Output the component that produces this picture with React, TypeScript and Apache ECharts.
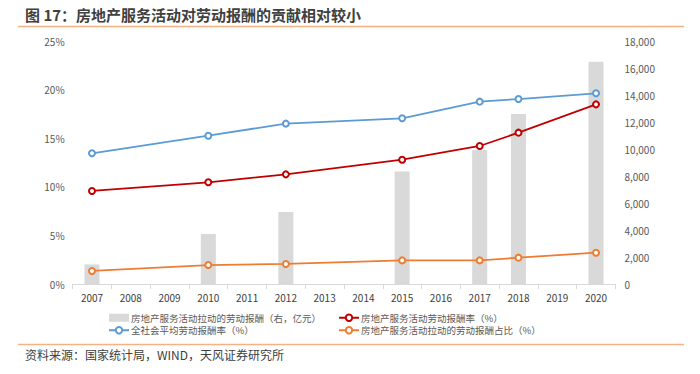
import React, { useEffect, useRef } from "react";
import * as echarts from "echarts";

const years = ["2007","2008","2009","2010","2011","2012","2013","2014","2015","2016","2017","2018","2019","2020"];
const laborPay = [1450, null, null, 3700, null, 5330, null, null, 8330, null, 9920, 12590, null, 16470];
const reRate = [9.57, null, null, 10.46, null, 11.28, null, null, 12.79, null, 14.2, 15.57, null, 18.48];
const avgRate = [13.45, null, null, 15.26, null, 16.5, null, null, 17.05, null, 18.76, 19.03, null, 19.62];
const share = [1.34, null, null, 1.95, null, 2.06, null, null, 2.43, null, 2.43, 2.71, null, 3.22];

const nBar = "房地产服务活动拉动的劳动报酬（右，亿元）";
const nRe = "房地产服务活动劳动报酬率（%）";
const nAvg = "全社会平均劳动报酬率（%）";
const nShare = "房地产服务活动拉动的劳动报酬占比（%）";

const FONT = "'Noto Sans CJK SC', 'Noto Sans', sans-serif";

export default function App() {
  const ref = useRef<HTMLDivElement>(null);
  useEffect(() => {
    document.body.style.margin = "0";
    const chart = echarts.init(ref.current!, null, { renderer: "svg" });
    const lineSeries = (name: string, data: (number | null)[], color: string) => ({
      name,
      type: "line",
      data,
      connectNulls: true,
      symbol: "emptyCircle",
      symbolSize: 6,
      itemStyle: { color, borderWidth: 1.5 },
      lineStyle: { color, width: 1.75 },
      z: 3,
    });
    const legendText = { fontSize: 9.5, color: "#595959", fontFamily: FONT, padding: [0, 0, 0, -3] };
    chart.setOption({
      animation: false,
      textStyle: { fontFamily: FONT },
      grid: { left: 72.6, right: 84.6, top: 41, bottom: 90 },
      graphic: [
        { type: "text", left: 25, top: 7, style: { text: "图 17：房地产服务活动对劳动报酬的贡献相对较小", font: `bold 15px ${FONT}`, fill: "#404040" } },
        { type: "line", shape: { x1: 18, y1: 26.5, x2: 684, y2: 26.5 }, style: { stroke: "#f4b183", lineWidth: 1.5 } },
        { type: "line", shape: { x1: 18, y1: 344.5, x2: 684, y2: 344.5 }, style: { stroke: "#f4b183", lineWidth: 1.5 } },
        { type: "text", left: 25, top: 348, style: { text: "资料来源：国家统计局，WIND，天风证券研究所", font: `12px ${FONT}`, fill: "#404040" } },
      ],
      legend: [
        {
          left: 103, top: 308, orient: "vertical", itemGap: 3, itemWidth: 20, itemHeight: 8,
          textStyle: legendText,
          data: [{ name: nBar, icon: "rect" }, nAvg],
        },
        {
          left: 333, top: 308, orient: "vertical", itemGap: 3, itemWidth: 20, itemHeight: 8,
          textStyle: legendText,
          data: [nRe, nShare],
        },
      ],
      xAxis: {
        type: "category",
        data: years,
        axisLine: { lineStyle: { color: "#d9d9d9" } },
        axisTick: { show: true, lineStyle: { color: "#d9d9d9" }, length: 5 },
        axisLabel: { color: "#404040", fontSize: 10, margin: 8 },
      },
      yAxis: [
        {
          type: "value", min: 0, max: 25, interval: 5,
          splitLine: { show: false },
          axisLine: { show: false }, axisTick: { show: false },
          axisLabel: { color: "#595959", fontSize: 10, formatter: "{value}%", margin: 8 },
        },
        {
          type: "value", min: 0, max: 18000, interval: 2000,
          splitLine: { show: false },
          axisLine: { show: false }, axisTick: { show: false },
          axisLabel: {
            color: "#595959", fontSize: 10, margin: 9,
            formatter: (v: number) => v.toLocaleString("en-US"),
          },
        },
      ],
      series: [
        {
          name: nBar, type: "bar", yAxisIndex: 1, data: laborPay, barWidth: 15,
          itemStyle: { color: "#d9d9d9" }, z: 1,
        },
        lineSeries(nRe, reRate, "#c00000"),
        lineSeries(nAvg, avgRate, "#5b9bd5"),
        lineSeries(nShare, share, "#ed7d31"),
      ],
    });
    return () => chart.dispose();
  }, []);
  return <div ref={ref} style={{ width: 700, height: 374 }} />;
}
